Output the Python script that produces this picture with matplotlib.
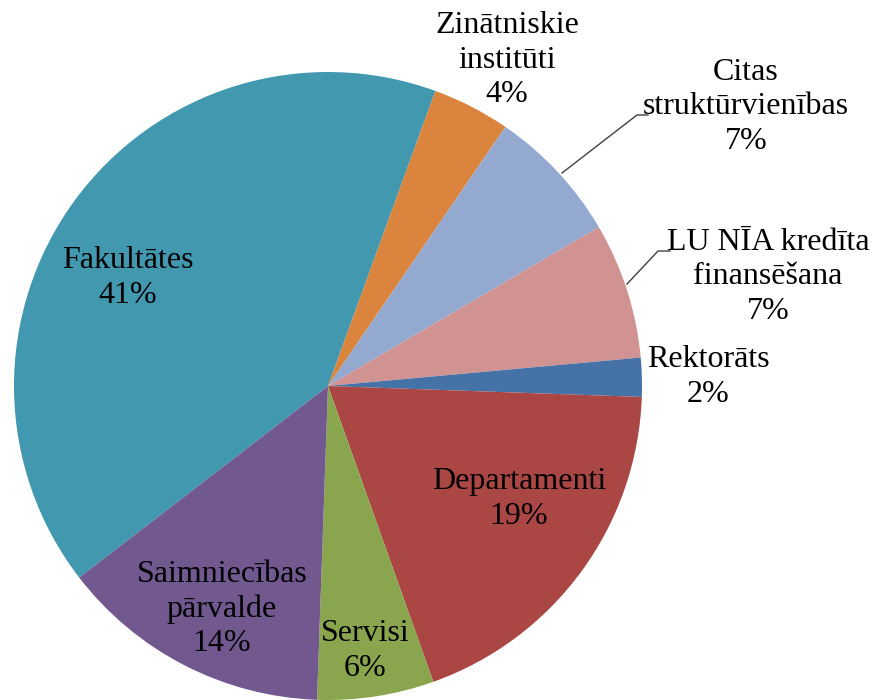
import matplotlib.pyplot as plt

# Budžeta sadalījums pa struktūrvienībām (%)
nosaukumi = ['Fakultātes', 'Zinātniskie\ninstitūti', 'Citas\nstruktūrvienības',
             'LU NĪA kredīta\nfinansēšana', 'Rektorāts', 'Departamenti',
             'Servisi', 'Saimniecības\npārvalde']
vertibas = [41, 4, 7, 7, 2, 19, 6, 14]
krasas = ['#4198AF', '#DB843D', '#93A9CF', '#D19392', '#4572A7', '#AA4643',
          '#89A54E', '#71588F']

# etiķešu centri (pikseļos no augšējā kreisā stūra)
etiketes_xy = [(128, 278), (507, 60), (746, 107), (768, 277), (708, 377),
               (519, 499), (365, 651), (222, 609)]

# pīrāga centrs un rādiuss pikseļos
CX, CY, R = 328, 386, 314
W, H = 876, 700


def px(x, y):
    return (x - CX) / R, (CY - y) / R


fig = plt.figure(figsize=(W / 100, H / 100), dpi=100)
ax = fig.add_axes([0, 0, 1, 1])
ax.axis('off')

ax.pie(vertibas, colors=krasas, startangle=90 - 232.4, counterclock=False,
       radius=1, center=(0, 0), wedgeprops=dict(linewidth=0))

ax.set_xlim(-CX / R, (W - CX) / R)
ax.set_ylim(-(H - CY) / R, CY / R)

for nos, v, (x, y) in zip(nosaukumi, vertibas, etiketes_xy):
    tx, ty = px(x, y)
    ax.text(tx, ty, f'{nos}\n{v}%', ha='center', va='center',
            fontsize=23, family='Liberation Serif', linespacing=1.25)

# vadlīnijas uz ārējām etiķetēm
for pts in ([(562, 173), (637, 115), (648, 115)],
            [(627, 284), (658, 251), (670, 251)]):
    xs, ys = zip(*[px(a, b) for a, b in pts])
    ax.plot(xs, ys, color='#404040', linewidth=1.0)

plt.savefig('out.png', dpi=100)
